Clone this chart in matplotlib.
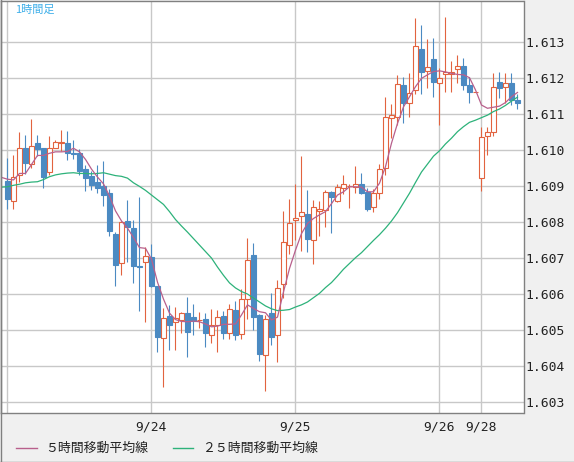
import matplotlib
matplotlib.use('Agg')
import matplotlib.pyplot as plt
from matplotlib.lines import Line2D

# 1時間足 OHLC (86本)
opens = [1.60913, 1.60858, 1.60929, 1.61004, 1.60959, 1.61018, 1.61004, 1.60938, 1.61006, 1.61019,
         1.61019, 1.60992, 1.60992, 1.60945, 1.60928, 1.60909, 1.60898, 1.60880, 1.60767, 1.60685,
         1.60803, 1.60783, 1.60676, 1.60688, 1.60702, 1.60622, 1.60477, 1.60537, 1.60521, 1.60526,
         1.60545, 1.60534, 1.60526, 1.60530, 1.60486, 1.60512, 1.60539, 1.60491, 1.60556, 1.60488,
         1.60586, 1.60707, 1.60542, 1.60430, 1.60545, 1.60484, 1.60627, 1.60734, 1.60805, 1.60816,
         1.60822, 1.60750, 1.60831, 1.60833, 1.60882, 1.60858, 1.60894, 1.60898, 1.60896, 1.60905,
         1.60883, 1.60840, 1.60879, 1.60948, 1.61087, 1.61092, 1.61180, 1.61129, 1.61166, 1.61281,
         1.61219, 1.61251, 1.61184, 1.61209, 1.61209, 1.61223, 1.61232, 1.61180, 1.61160, 1.60920,
         1.61038, 1.61050, 1.61187, 1.61173, 1.61186, 1.61138]
highs = [1.60978, 1.60984, 1.61049, 1.61040, 1.61084, 1.61040, 1.61006, 1.61037, 1.61026, 1.61055,
         1.61053, 1.61026, 1.61001, 1.60958, 1.60942, 1.60958, 1.60968, 1.60892, 1.60770, 1.60803,
         1.60861, 1.60806, 1.60869, 1.60730, 1.60739, 1.60622, 1.60560, 1.60568, 1.60562, 1.60549,
         1.60590, 1.60570, 1.60549, 1.60545, 1.60558, 1.60554, 1.60553, 1.60572, 1.60579, 1.60612,
         1.60756, 1.60740, 1.60543, 1.60542, 1.60603, 1.60639, 1.60829, 1.60863, 1.60906, 1.60983,
         1.60889, 1.60859, 1.60858, 1.60887, 1.60886, 1.60906, 1.60931, 1.60906, 1.60956, 1.60934,
         1.60893, 1.60892, 1.60960, 1.61145, 1.61127, 1.61207, 1.61201, 1.61212, 1.61365, 1.61346,
         1.61307, 1.61309, 1.61226, 1.61368, 1.61245, 1.61263, 1.61254, 1.61203, 1.61161, 1.61062,
         1.61062, 1.61212, 1.61215, 1.61212, 1.61212, 1.61154]
lows = [1.60836, 1.60836, 1.60910, 1.60932, 1.60948, 1.60983, 1.60894, 1.60929, 1.61005, 1.60996,
        1.60972, 1.60973, 1.60930, 1.60884, 1.60887, 1.60879, 1.60843, 1.60759, 1.60620, 1.60651,
        1.60687, 1.60630, 1.60551, 1.60520, 1.60618, 1.60437, 1.60340, 1.60444, 1.60444, 1.60491,
        1.60423, 1.60486, 1.60505, 1.60451, 1.60463, 1.60437, 1.60474, 1.60474, 1.60471, 1.60473,
        1.60531, 1.60499, 1.60412, 1.60329, 1.60458, 1.60409, 1.60588, 1.60710, 1.60750, 1.60718,
        1.60715, 1.60682, 1.60759, 1.60785, 1.60769, 1.60854, 1.60878, 1.60838, 1.60881, 1.60877,
        1.60830, 1.60828, 1.60864, 1.60930, 1.61032, 1.61069, 1.61075, 1.61090, 1.61155, 1.61156,
        1.61170, 1.61147, 1.61069, 1.61161, 1.61161, 1.61184, 1.61166, 1.61131, 1.61160, 1.60886,
        1.60985, 1.61038, 1.61143, 1.61131, 1.61124, 1.61113]
closes = [1.60862, 1.60925, 1.61006, 1.60963, 1.61009, 1.61001, 1.60925, 1.61006, 1.61022, 1.61020,
          1.60992, 1.60987, 1.60940, 1.60921, 1.60903, 1.60893, 1.60873, 1.60773, 1.60681, 1.60799,
          1.60784, 1.60676, 1.60674, 1.60704, 1.60620, 1.60481, 1.60532, 1.60512, 1.60533, 1.60545,
          1.60493, 1.60523, 1.60528, 1.60491, 1.60512, 1.60536, 1.60491, 1.60558, 1.60485, 1.60586,
          1.60693, 1.60536, 1.60433, 1.60530, 1.60480, 1.60616, 1.60744, 1.60796, 1.60810, 1.60827,
          1.60752, 1.60841, 1.60836, 1.60882, 1.60868, 1.60896, 1.60905, 1.60899, 1.60905, 1.60881,
          1.60835, 1.60881, 1.60945, 1.61092, 1.61095, 1.61182, 1.61129, 1.61158, 1.61288, 1.61215,
          1.61229, 1.61189, 1.61200, 1.61215, 1.61216, 1.61232, 1.61180, 1.61159, 1.61161, 1.61034,
          1.61050, 1.61173, 1.61170, 1.61184, 1.61138, 1.61129]

# 移動平均線 (左端の1本手前から)
ma5 = [1.60923, 1.60918, 1.60916, 1.60934, 1.60934, 1.60959, 1.60984, 1.60984, 1.60990, 1.60994,
       1.60994, 1.60995, 1.61004, 1.60994, 1.60973, 1.60946, 1.60924, 1.60905, 1.60871, 1.60830,
       1.60802, 1.60782, 1.60756, 1.60728, 1.60726, 1.60696, 1.60632, 1.60585, 1.60546, 1.60528,
       1.60523, 1.60522, 1.60524, 1.60522, 1.60516, 1.60508, 1.60510, 1.60515, 1.60515, 1.60516,
       1.60541, 1.60569, 1.60559, 1.60550, 1.60547, 1.60527, 1.60535, 1.60605, 1.60670, 1.60721,
       1.60767, 1.60795, 1.60809, 1.60819, 1.60828, 1.60850, 1.60874, 1.60883, 1.60897, 1.60897,
       1.60896, 1.60883, 1.60883, 1.60907, 1.60953, 1.61018, 1.61073, 1.61119, 1.61147, 1.61175,
       1.61198, 1.61208, 1.61217, 1.61219, 1.61216, 1.61212, 1.61209, 1.61208, 1.61200, 1.61166,
       1.61124, 1.61115, 1.61118, 1.61121, 1.61131, 1.61147, 1.61159]
ma25 = [1.60896, 1.60897, 1.60901, 1.60904, 1.60908, 1.60910, 1.60911, 1.60917, 1.60925, 1.60930,
        1.60933, 1.60935, 1.60936, 1.60934, 1.60934, 1.60933, 1.60934, 1.60936, 1.60932, 1.60928,
        1.60926, 1.60921, 1.60908, 1.60898, 1.60887, 1.60874, 1.60861, 1.60848, 1.60828, 1.60806,
        1.60788, 1.60771, 1.60753, 1.60735, 1.60717, 1.60699, 1.60674, 1.60651, 1.60630, 1.60616,
        1.60606, 1.60599, 1.60588, 1.60577, 1.60566, 1.60558, 1.60553, 1.60554, 1.60556, 1.60563,
        1.60569, 1.60577, 1.60589, 1.60601, 1.60617, 1.60631, 1.60649, 1.60668, 1.60684, 1.60700,
        1.60714, 1.60731, 1.60748, 1.60764, 1.60782, 1.60802, 1.60825, 1.60852, 1.60879, 1.60909,
        1.60938, 1.60960, 1.60982, 1.60997, 1.61016, 1.61032, 1.61050, 1.61064, 1.61076, 1.61082,
        1.61089, 1.61096, 1.61106, 1.61113, 1.61123, 1.61135, 1.61146]

day_pos = [0, 24, 48, 72, 79]
day_labels = ['', '9/24', '9/25', '9/26', '9/28']
price_ticks = [1.603, 1.604, 1.605, 1.606, 1.607, 1.608, 1.609, 1.610, 1.611, 1.612, 1.613]

bull_c = '#e2633f'
bear_c = '#4b8ac2'
ma5_c = '#b8608c'
ma25_c = '#2db27a'

W, H = 574, 462
fig = plt.figure(figsize=(W / 100, H / 100), dpi=100, facecolor='#f0f0f0')
ax = fig.add_axes([0.5 / W, (H - 412.5) / H, 523 / W, 412 / H])
ax.set_facecolor('white')

xs = list(range(len(opens)))
cols = [bull_c if c >= o else bear_c for o, c in zip(opens, closes)]
fills = ['white' if c >= o else bear_c for o, c in zip(opens, closes)]
bottoms = [min(o, c) for o, c in zip(opens, closes)]
heights = [max(abs(c - o), 0.000003) for o, c in zip(opens, closes)]

ax.vlines(xs, lows, highs, colors=cols, lw=0.8, zorder=2)
ax.bar(xs, heights, bottom=bottoms, width=0.68, color=fills, edgecolor=cols, linewidth=0.8, zorder=3)

ma_x = list(range(-1, len(opens)))
ax.plot(ma_x, ma25, color=ma25_c, lw=0.9, zorder=4)
ax.plot(ma_x, ma5, color=ma5_c, lw=0.9, zorder=4)

ax.set_xlim(-7 / 6, 86)
ax.set_ylim(1.60270, 1.614144)
ax.set_yticks(price_ticks)
ax.set_yticklabels(['%.3f' % p for p in price_ticks])
ax.set_xticks(day_pos)
ax.set_xticklabels(day_labels)
ax.yaxis.tick_right()
ax.grid(color='#c8c8c8', lw=1.0, zorder=0)
ax.set_axisbelow(True)
ax.tick_params(axis='both', length=0, labelsize=9.4, labelcolor='#222222')
ax.tick_params(axis='y', pad=1.6)
ax.tick_params(axis='x', pad=5.5)
for lab in ax.get_xticklabels() + ax.get_yticklabels():
    lab.set_family('DejaVu Sans Mono')
for sp in ax.spines.values():
    sp.set_color('#808080')
    sp.set_linewidth(1.0)

jp = ['Noto Sans CJK JP', 'DejaVu Sans']
fig.text(15 / W, 1 - 10 / H, '1時間足', color='#3daee9', fontsize=8, family=jp, va='center')

# 凡例
ly = 1 - 448 / H
fig.add_artist(Line2D([16 / W, 37 / W], [ly, ly], color=ma5_c, lw=1))
fig.text(45 / W, ly, '５時間移動平均線', fontsize=9.3, family=jp, va='center', color='#222222')
fig.add_artist(Line2D([173 / W, 193 / W], [ly, ly], color=ma25_c, lw=1))
fig.text(202 / W, ly, '２５時間移動平均線', fontsize=9.3, family=jp, va='center', color='#222222')

# 外枠
fig.add_artist(Line2D([0.5 / W, 0.5 / W], [0, 1], color='#808080', lw=1))
fig.add_artist(Line2D([0, 1], [0.5 / H, 0.5 / H], color='#808080', lw=1))

fig.savefig('out.png', dpi=100, facecolor=fig.get_facecolor())
